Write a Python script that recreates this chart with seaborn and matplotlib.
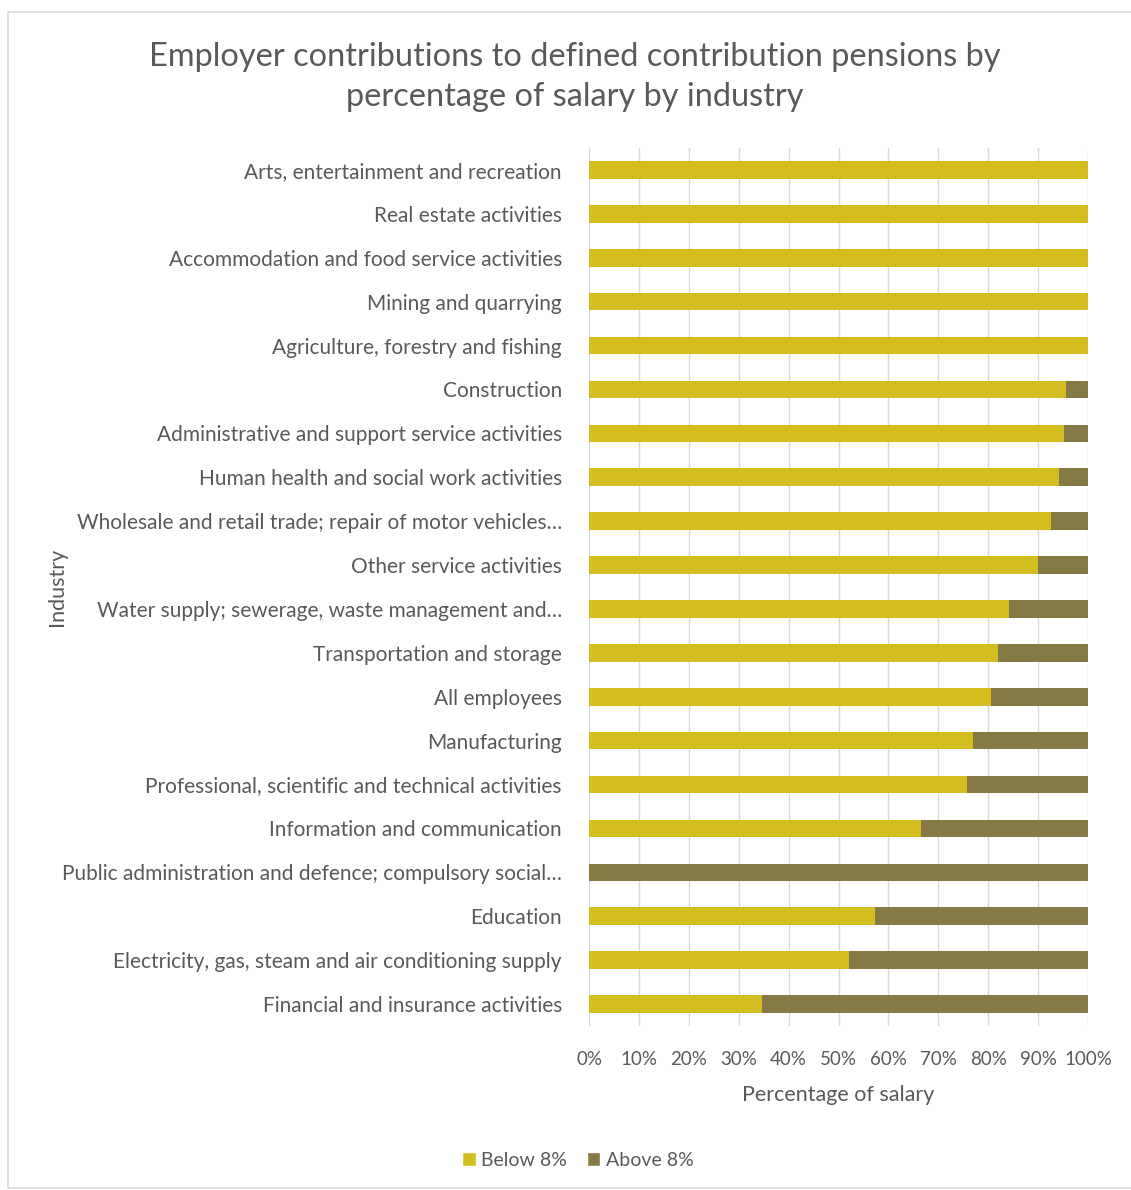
import matplotlib
matplotlib.use("Agg")
import matplotlib.pyplot as plt
import seaborn as sns
import pandas as pd
from matplotlib.patches import Rectangle, Patch

industries = [
    "Arts, entertainment and recreation",
    "Real estate activities",
    "Accommodation and food service activities",
    "Mining and quarrying",
    "Agriculture, forestry and fishing",
    "Construction",
    "Administrative and support service activities",
    "Human health and social work activities",
    "Wholesale and retail trade; repair of motor vehicles…",
    "Other service activities",
    "Water supply; sewerage, waste management and…",
    "Transportation and storage",
    "All employees",
    "Manufacturing",
    "Professional, scientific and technical activities",
    "Information and communication",
    "Public administration and defence; compulsory social…",
    "Education",
    "Electricity, gas, steam and air conditioning supply",
    "Financial and insurance activities",
]
below_8 = [100, 100, 100, 100, 100, 95.5, 95.1, 94.2, 92.6, 90.0, 84.2, 82.0,
           80.6, 76.9, 75.7, 66.6, 0, 57.3, 52.1, 34.7]
above_8 = [100 - v for v in below_8]
x_ticks = [0, 10, 20, 30, 40, 50, 60, 70, 80, 90, 100]
x_tick_labels = [f"{t}%" for t in x_ticks]

df = pd.DataFrame({"Industry": industries, "Below 8%": below_8, "Above 8%": above_8})
df["Total"] = df["Below 8%"] + df["Above 8%"]

sns.set_theme(style="white")
plt.rcParams["font.family"] = ["Lato", "DejaVu Sans"]
TXT = "#595959"
YEL = "#D4BE1F"
OLV = "#857A45"

fig = plt.figure(figsize=(11.31, 11.90), dpi=100)
ax = fig.add_axes([0.5208, 0.1378, 0.4412, 0.7378])

sns.barplot(data=df, y="Industry", x="Total", orient="h", color=OLV,
            width=0.4, ax=ax, saturation=1, order=industries, linewidth=0)
sns.barplot(data=df, y="Industry", x="Below 8%", orient="h", color=YEL,
            width=0.4, ax=ax, saturation=1, order=industries, linewidth=0)

ax.set_xlim(0, 100)
ax.set_ylim(len(industries) - 0.5, -0.5)
ax.set_xticks(x_ticks)
ax.set_xticklabels(x_tick_labels, fontsize=13.5, color=TXT)
ax.tick_params(axis="y", labelsize=15, labelcolor=TXT, length=0, pad=19.5)
ax.tick_params(axis="x", length=0, pad=18)
ax.xaxis.grid(True, color="#D9D9D9", linewidth=1)
ax.set_axisbelow(True)
for s in ax.spines.values():
    s.set_visible(False)

ax.set_xlabel("Percentage of salary", fontsize=15.5, color=TXT, labelpad=12)
ax.set_ylabel("")
fig.text(57 / 1131, 1 - 587 / 1190, "Industry", rotation=90, fontsize=15.5,
         color=TXT, ha="center", va="center")

fig.text(575 / 1131, 1 - 77 / 1190,
         "Employer contributions to defined contribution pensions by\npercentage of salary by industry",
         ha="center", va="center", fontsize=23.4, color=TXT, linespacing=1.4)

handles = [Patch(facecolor=YEL, label="Below 8%"), Patch(facecolor=OLV, label="Above 8%")]
fig.legend(handles=handles, loc="center", bbox_to_anchor=(578 / 1131, 1 - 1160 / 1190),
           ncol=2, frameon=False, fontsize=14, handlelength=0.7, handleheight=0.7,
           handletextpad=0.3, columnspacing=1.0, labelcolor=TXT)

fig.patches.append(Rectangle((8 / 1131, 2 / 1190), 1.1, 1 - 14 / 1190,
                             transform=fig.transFigure, fill=False,
                             edgecolor="#D9D9D9", linewidth=1.2))

fig.savefig("out.png", dpi=100)
